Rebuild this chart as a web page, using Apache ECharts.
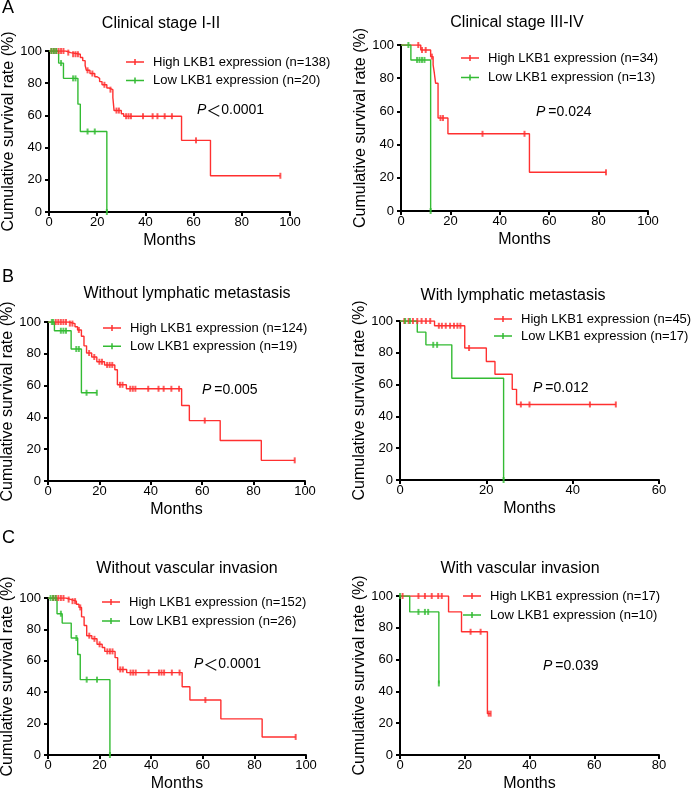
<!DOCTYPE html>
<html>
<head>
<meta charset="utf-8">
<script src="https://cdn.jsdelivr.net/npm/echarts@6/dist/echarts.min.js"></script>
<style>
html, body { margin: 0; padding: 0; background: #fff; }
#chart { width: 700px; height: 791px; }
</style>
</head>
<body>
<div id="chart"></div>
<script>
// Kaplan-Meier steps: [month, survival %]; censor marks listed separately
var a1High = [[0,100],[7,99],[9,98],[13,96],[14,94],[15,91],[15.5,88],[17,86],[19,84],[20,83],[21,81],[22,79],[24,77],[25,76],[26.5,71],[27,63],[30,61],[31,59.5],[55,44.5],[67,22.5],[96,22.5]];
var a1HighCens = [[1,100],[2,100],[3,100],[4,100],[5,100],[6,100],[8,99],[10,98],[11,98],[12,98],[16,88],[18,86],[23,79],[25.5,76],[28,63],[29,63],[32,59.5],[33,59.5],[34,59.5],[39,59.5],[43,59.5],[45,59.5],[48,59.5],[51,59.5],[61,44.5],[96,22.5]];
var a1Low = [[0,100],[4,92.5],[6,83],[12,67],[13,50],[24,0]];
var a1LowCens = [[1,100],[2,100],[3,100],[5,92.5],[10,83],[11,83],[16,50],[19,50],[24,0]];

var a2High = [[0,100],[8,97],[12,93],[13,88],[13.5,83],[14,77],[15,56],[19,46.5],[52,23.3],[83,23.3]];
var a2HighCens = [[7,100],[8.5,97],[10,97],[12.5,93],[16,56],[17,56],[33,46.5],[50,46.5],[83,23.3]];
var a2Low = [[0,100],[4,91],[12,0]];
var a2LowCens = [[3,100],[6.5,91],[7.5,91],[8.5,91],[9.5,91],[12,0]];

var b1High = [[0,100],[8,99],[10.5,97],[11.5,95],[13,91],[14,85],[15,80.5],[17,78],[19,75],[22,73],[26,70],[27,60.5],[30.5,58],[52,47.5],[55,38],[67,25.5],[83,13],[96,13]];
var b1HighCens = [[3,100],[4,100],[5,100],[6,100],[7,100],[8.5,99],[9.5,99],[12,95],[16,80.5],[18,78],[20,75],[21,75],[23,73],[24,73],[25,73],[28,60.5],[29,60.5],[32,58],[33,58],[34,58],[39,58],[43,58],[45,58],[48,58],[51,58],[61,38],[96,13]];
var b1Low = [[0,100],[2.5,94.5],[9,83],[13,55.5],[19,55.5]];
var b1LowCens = [[1.5,100],[2,100],[5,94.5],[6,94.5],[7,94.5],[11,83],[12,83],[15,55.5],[19,55.5]];

var b2High = [[0,100],[8,97],[15,83],[20,74.5],[22,66.5],[26,57],[27,47.5],[50,47.5]];
var b2HighCens = [[1,100],[2,100],[3,100],[4,100],[5,100],[6,100],[7,100],[9,97],[9.7,97],[10.6,97],[11.6,97],[12.5,97],[13.3,97],[14,97],[16,83],[28,47.5],[30,47.5],[44,47.5],[50,47.5]];
var b2Low = [[0,100],[4,93],[6,85],[12,64],[24,0]];
var b2LowCens = [[1.2,100],[2.3,100],[7.7,85],[8.6,85],[24,0]];

var c1High = [[0,100],[7,99],[9,98],[11,96],[12,94],[13,88],[14,82.5],[15,76],[17,74],[19,70.5],[21,68.5],[22,66],[26,62],[27,54.5],[30.5,52.5],[52,43.5],[55,35],[67,23],[83,11.5],[96,11.5]];
var c1HighCens = [[2,100],[3,100],[4,100],[5,100],[6,100],[8,99],[9.5,98],[10.5,98],[12.5,94],[16,76],[18,74],[20,70.5],[23,66],[24,66],[25,66],[28,54.5],[29,54.5],[32,52.5],[33,52.5],[34,52.5],[39,52.5],[43,52.5],[44,52.5],[45,52.5],[48,52.5],[51,52.5],[61,35],[96,11.5]];
var c1Low = [[0,100],[3.5,90],[5.5,84],[9,74.5],[11.5,64],[12.5,48],[24,0]];
var c1LowCens = [[1,100],[2,100],[3,100],[5,90],[11,74.5],[15,48],[19,48],[24,0]];

var c2High = [[0,100],[15,90],[19,77.5],[27,26],[28,26]];
var c2HighCens = [[0.8,100],[5.7,100],[7.7,100],[9.8,100],[11.8,100],[12.9,100],[21.8,77.5],[24.9,77.5],[27.4,26],[28,26]];
var c2Low = [[0,100],[3,90],[12,45]];
var c2LowCens = [[0,100],[5.7,90],[7.7,90],[8.7,90],[12,45]];

var titles = ['Clinical stage I-II', 'Clinical stage III-IV', 'Without lymphatic metastasis', 'With lymphatic metastasis', 'Without vascular invasion', 'With vascular invasion'];
var highNames = ['High LKB1 expression (n=138)', 'High LKB1 expression (n=34)', 'High LKB1 expression (n=124)', 'High LKB1 expression (n=45)', 'High LKB1 expression (n=152)', 'High LKB1 expression (n=17)'];
var lowNames = ['Low LKB1 expression (n=20)', 'Low LKB1 expression (n=13)', 'Low LKB1 expression (n=19)', 'Low LKB1 expression (n=17)', 'Low LKB1 expression (n=26)', 'Low LKB1 expression (n=10)'];
var pSigns = ['＜', '=', '=', '=', '＜', '='];
var pValues = ['0.0001', '0.024', '0.005', '0.012', '0.0001', '0.039'];
var xMax = [100, 100, 100, 60, 100, 80];
var highData = [a1High, a2High, b1High, b2High, c1High, c2High];
var highCens = [a1HighCens, a2HighCens, b1HighCens, b2HighCens, c1HighCens, c2HighCens];
var lowData = [a1Low, a2Low, b1Low, b2Low, c1Low, c2Low];
var lowCens = [a1LowCens, a2LowCens, b1LowCens, b2LowCens, c1LowCens, c2LowCens];

// layout
var grids = [
  {left: 49, top: 51, width: 241, height: 161},
  {left: 401, top: 45, width: 247, height: 166},
  {left: 48, top: 322, width: 257, height: 159},
  {left: 400, top: 321, width: 259, height: 159},
  {left: 48, top: 598, width: 258, height: 157},
  {left: 400, top: 596, width: 259, height: 159}
];
var titlePos = [[161, 24], [517, 23], [187, 294], [513, 296], [187, 569], [520, 569]];
var legendPos = [[126, 55, 4.4], [461, 51, 5.4], [103, 321, 4.3], [494, 312, 3], [102, 595, 5], [463, 589, 5]];
var pPos = [[197, 110], [536, 112], [202, 390], [533, 388], [194, 664], [543, 666]];

var FONT = '"Liberation Sans", Arial, Helvetica, sans-serif';
var RED = '#ff3030';
var GREEN = '#33bb33';
var ICON = 'path://M0,2.25L18,2.25L18,3.75L0,3.75Z M8.25,0L9.75,0L9.75,6L8.25,6Z';

var chart = echarts.init(document.getElementById('chart'));

var option = {
  backgroundColor: '#fff',
  animation: false,
  grid: [], xAxis: [], yAxis: [], legend: [], series: [], graphic: []
};

grids.forEach(function(g, i) {
  option.grid.push({left: g.left, top: g.top, width: g.width, height: g.height, outerBoundsMode: 'none', containLabel: false});
  option.xAxis.push({
    gridIndex: i, type: 'value', min: 0, max: xMax[i], interval: 20,
    name: 'Months', nameLocation: 'middle', nameGap: 21,
    nameTextStyle: {fontSize: 16, color: '#000', fontFamily: FONT},
    axisLine: {show: true, onZero: false, lineStyle: {color: '#000', width: 2}},
    axisTick: {show: true, inside: false, length: 4, lineStyle: {color: '#000', width: 2}},
    axisLabel: {color: '#000', fontSize: 13, margin: 4, fontFamily: FONT, showMinLabel: true, showMaxLabel: true},
    splitLine: {show: false}
  });
  option.yAxis.push({
    gridIndex: i, type: 'value', min: 0, max: 100, interval: 20,
    name: 'Cumulative survival rate (%)', nameLocation: 'middle', nameGap: 29,
    nameTextStyle: {fontSize: 16, color: '#000', fontFamily: FONT},
    axisLine: {show: true, onZero: false, lineStyle: {color: '#000', width: 2}},
    axisTick: {show: true, inside: false, length: 4, lineStyle: {color: '#000', width: 2}},
    axisLabel: {color: '#000', fontSize: 13, margin: 7, fontFamily: FONT, showMinLabel: true, showMaxLabel: true},
    splitLine: {show: false}
  });

  option.series.push(
    {type: 'line', name: highNames[i], xAxisIndex: i, yAxisIndex: i, data: highData[i], step: 'end',
     showSymbol: false, symbol: 'none', color: RED, itemStyle: {color: RED}, lineStyle: {color: RED, width: 1.4}, z: 2},
    {type: 'line', name: lowNames[i], xAxisIndex: i, yAxisIndex: i, data: lowData[i], step: 'end',
     showSymbol: false, symbol: 'none', color: GREEN, itemStyle: {color: GREEN}, lineStyle: {color: GREEN, width: 1.4}, z: 3},
    {type: 'scatter', name: 'hc' + i, xAxisIndex: i, yAxisIndex: i, data: highCens[i],
     symbol: 'rect', symbolSize: [2, 6], itemStyle: {color: RED}, z: 4},
    {type: 'scatter', name: 'lc' + i, xAxisIndex: i, yAxisIndex: i, data: lowCens[i],
     symbol: 'rect', symbolSize: [2, 6], itemStyle: {color: GREEN}, z: 5}
  );

  var lp = legendPos[i];
  option.legend.push({
    orient: 'vertical', left: lp[0], top: lp[1], padding: 0, itemGap: lp[2],
    itemWidth: 18, itemHeight: 6, icon: ICON, selectedMode: false,
    itemStyle: {borderWidth: 0},
    data: [highNames[i], lowNames[i]],
    textStyle: {fontSize: 13, color: '#000', fontFamily: FONT, lineHeight: 14, padding: [0, 0, 0, 4]}
  });

  option.graphic.push({
    type: 'text', x: titlePos[i][0], y: titlePos[i][1],
    style: {text: titles[i], fill: '#000', font: '16px ' + FONT, textAlign: 'center', textVerticalAlign: 'middle'}
  });
  var wide = pSigns[i] === '＜';
  option.graphic.push({
    type: 'text', x: pPos[i][0], y: pPos[i][1],
    style: {
      text: '{i|P}{s|' + pSigns[i] + '}{n|' + pValues[i] + '}',
      textVerticalAlign: 'middle',
      rich: {
        i: {fontSize: 14, fontStyle: 'italic', fontFamily: FONT, fill: '#000', padding: [0, wide ? 0 : 3, 0, 0]},
        s: {fontSize: wide ? 15 : 14, fontFamily: wide ? '"Noto Sans CJK SC", ' + FONT : FONT, fill: '#000'},
        n: {fontSize: 14, fontFamily: FONT, fill: '#000'}
      }
    }
  });
});

[['A', 8], ['B', 277], ['C', 538]].forEach(function(l) {
  option.graphic.push({
    type: 'text', x: 2, y: l[1],
    style: {text: l[0], fill: '#000', font: '18px ' + FONT, textVerticalAlign: 'middle'}
  });
});

chart.setOption(option);
</script>
</body>
</html>
